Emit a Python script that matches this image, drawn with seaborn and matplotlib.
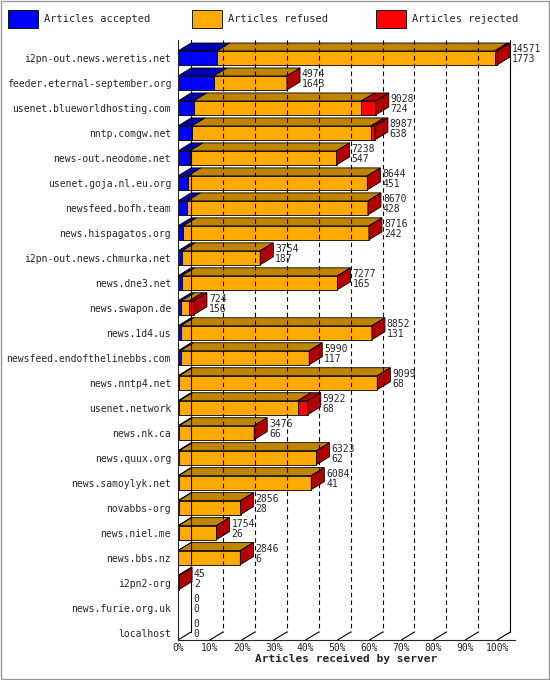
import matplotlib
matplotlib.use("Agg")
from matplotlib import pyplot as plt
from matplotlib.patches import Polygon, Rectangle
import seaborn as sns

# servidores y contadores de artículos
servers = ["i2pn-out.news.weretis.net", "feeder.eternal-september.org", "usenet.blueworldhosting.com",
           "nntp.comgw.net", "news-out.neodome.net", "usenet.goja.nl.eu.org", "newsfeed.bofh.team",
           "news.hispagatos.org", "i2pn-out.news.chmurka.net", "news.dne3.net", "news.swapon.de",
           "news.1d4.us", "newsfeed.endofthelinebbs.com", "news.nntp4.net", "usenet.network",
           "news.nk.ca", "news.quux.org", "news.samoylyk.net", "novabbs-org", "news.niel.me",
           "news.bbs.nz", "i2pn2-org", "news.furie.org.uk", "localhost"]
total = [14571, 4974, 9028, 8987, 7238, 8644, 8670, 8716, 3754, 7277, 724, 8852, 5990, 9099,
         5922, 3476, 6323, 6084, 2856, 1754, 2846, 45, 0, 0]
accepted = [1773, 1643, 724, 638, 547, 451, 428, 242, 187, 165, 156, 131, 117, 68, 68, 66, 62,
            41, 28, 26, 6, 2, 0, 0]
rejected = [120, 0, 650, 180, 0, 0, 0, 0, 0, 0, 200, 0, 0, 0, 450, 0, 0, 0, 0, 0, 0, 0, 0, 0]

sns.set_style("white")
plt.rcParams["font.family"] = ["DejaVu Sans Mono"]

fig = plt.figure(figsize=(5.5, 6.8), dpi=100)
ax = fig.add_axes([178 / 550, 1 - 640 / 680, 337 / 550, 600 / 680])
xmax = 105.6
ax.set_xlim(0, xmax)
ax.set_ylim(23.3, -0.72)

dx, dy, h = 4.1, 0.32, 0.28
front = {"acc": "#0000ff", "ref": "#ffaa00", "rej": "#ff0000"}
top = {"acc": "#0000b0", "ref": "#c08400", "rej": "#b00000"}
side = "#b00000"
scale = 100.0 / max(total)

# rejilla del fondo
for p in range(10, 101, 10):
    ax.plot([p + dx, p + dx], [-0.72, 23.3 - dy], color="black", lw=0.8,
            ls=(0, (4, 3)) if p < 100 else "-")
    ax.plot([p, p + dx], [23.3, 23.3 - dy], color="black", lw=0.8)
ax.plot([dx, dx], [-0.72, 23.3 - dy], color="black", lw=0.8)
ax.plot([0, dx], [23.3, 23.3 - dy], color="black", lw=0.8)

for i, s in enumerate(servers):
    segs = [("acc", accepted[i]), ("ref", total[i] - accepted[i] - rejected[i]), ("rej", rejected[i])]
    x0 = 0.0
    yt = i - h
    for key, v in segs:
        w = v * scale
        if w <= 0:
            continue
        ax.add_patch(Rectangle((x0, yt), w, 2 * h, facecolor=front[key], edgecolor="black", lw=0.6))
        ax.add_patch(Polygon([(x0, yt), (x0 + w, yt), (x0 + w + dx, yt - dy), (x0 + dx, yt - dy)],
                             facecolor=top[key], edgecolor="black", lw=0.6))
        x0 += w
    if total[i] > 0:
        ax.add_patch(Polygon([(x0, yt), (x0 + dx, yt - dy), (x0 + dx, i + h - dy), (x0, i + h)],
                             facecolor=side, edgecolor="black", lw=0.6))
    ax.text(x0 + dx + 0.6, i - 0.15, f"{total[i]}\n{accepted[i]}", fontsize=7,
            va="center", ha="left", linespacing=0.95)

ax.set_yticks(range(len(servers)))
ax.set_yticklabels(servers, fontsize=7)
ax.set_xticks(range(0, 101, 10))
ax.set_xticklabels([f"{p}%" for p in range(0, 101, 10)], fontsize=7)
ax.tick_params(axis="y", length=3, pad=2)
ax.tick_params(axis="x", length=0, pad=2)
for sp in ["top", "right"]:
    ax.spines[sp].set_visible(False)
ax.spines["left"].set_linewidth(0.8)
ax.spines["bottom"].set_linewidth(0.8)
ax.set_xlabel("Articles received by server", fontsize=8, fontweight="bold", labelpad=1)

# leyenda
for lx, key, lab in [(8, "acc", "Articles accepted"), (192, "ref", "Articles refused"),
                     (376, "rej", "Articles rejected")]:
    fig.patches.append(Rectangle((lx / 550, 1 - 28 / 680), 30 / 550, 18 / 680, transform=fig.transFigure,
                                 facecolor=front[key], edgecolor="black", lw=0.6))
    fig.text((lx + 36) / 550, 1 - 19 / 680, lab, fontsize=7.5, va="center")

fig.patches.append(Rectangle((0.002, 0.002), 0.996, 0.996, transform=fig.transFigure,
                             fill=False, edgecolor="#999999", lw=1))
fig.savefig("out.png", dpi=100)
